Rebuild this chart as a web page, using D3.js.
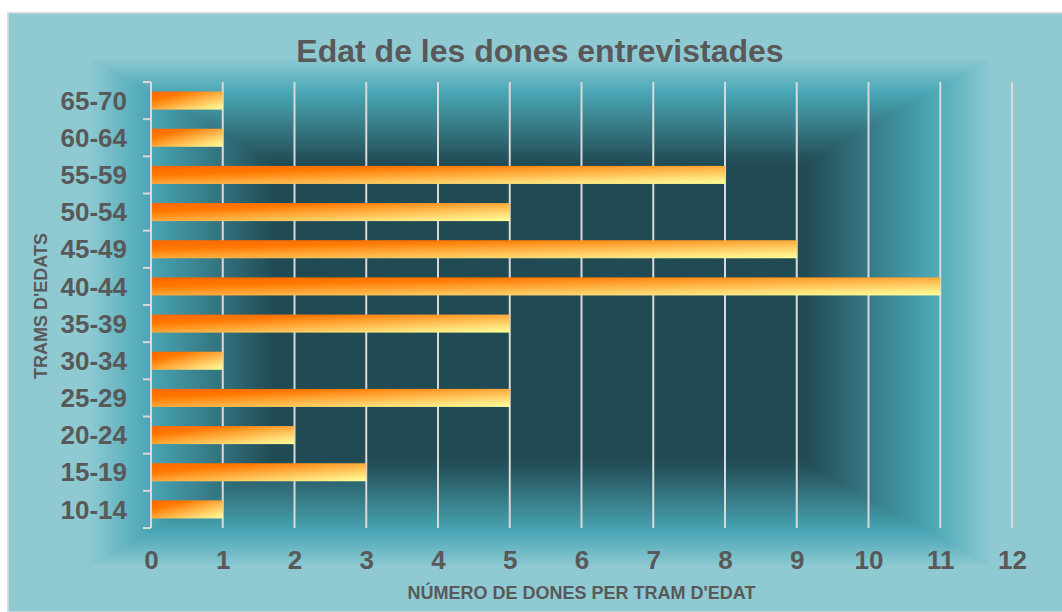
<!DOCTYPE html>
<html><head><meta charset="utf-8">
<script src="https://cdn.jsdelivr.net/npm/d3@7"></script>
<style>
html,body{margin:0;padding:0;background:#fff;}
svg{display:block;}
text{font-family:"Liberation Sans",Arial,sans-serif;font-weight:bold;fill:#595959;}
</style></head>
<body>
<svg id="chart" width="1062" height="612"></svg>
<script>
// ---- data ----
const categories = ["65-70","60-64","55-59","50-54","45-49","40-44","35-39","30-34","25-29","20-24","15-19","10-14"];
const values     = [1, 1, 8, 5, 9, 11, 5, 1, 5, 2, 3, 1];
const xTickValues = [0,1,2,3,4,5,6,7,8,9,10,11,12];
const titleText = "Edat de les dones entrevistades";
const xAxisTitle = "NÚMERO DE DONES PER TRAM D'EDAT";
const yAxisTitle = "TRAMS D'EDATS";

const svg = d3.select("#chart");
const defs = svg.append("defs");

// ---- chart area with rectangular path gradient ----
const outer = {x0: 8, y0: 13, x1: 1072, y1: 612};
const cx = (outer.x0 + outer.x1) / 2, cy = (outer.y0 + outer.y1) / 2;
const hw = (outer.x1 - outer.x0) / 4, hh = (outer.y1 - outer.y0) / 4;
const inner = {x0: cx - hw, y0: cy - hh, x1: cx + hw, y1: cy + hh};
const bgStops = [
  {o: 0, c: "#8FCAD3"}, {o: 0.30, c: "#8FCAD3"},
  {o: 0.53, c: "#4AA7B5"}, {o: 1, c: "#214B54"}
];
const sides = [
  {id: "gT", pts: [[outer.x0,outer.y0],[outer.x1,outer.y0],[inner.x1,inner.y0],[inner.x0,inner.y0]], g: [0,outer.y0,0,inner.y0]},
  {id: "gB", pts: [[outer.x0,outer.y1],[outer.x1,outer.y1],[inner.x1,inner.y1],[inner.x0,inner.y1]], g: [0,outer.y1,0,inner.y1]},
  {id: "gL", pts: [[outer.x0,outer.y0],[outer.x0,outer.y1],[inner.x0,inner.y1],[inner.x0,inner.y0]], g: [outer.x0,0,inner.x0,0]},
  {id: "gR", pts: [[outer.x1,outer.y0],[outer.x1,outer.y1],[inner.x1,inner.y1],[inner.x1,inner.y0]], g: [outer.x1,0,inner.x1,0]}
];
sides.forEach(s => {
  const lg = defs.append("linearGradient").attr("id", s.id).attr("gradientUnits", "userSpaceOnUse")
    .attr("x1", s.g[0]).attr("y1", s.g[1]).attr("x2", s.g[2]).attr("y2", s.g[3]);
  bgStops.forEach(st => lg.append("stop").attr("offset", st.o).attr("stop-color", st.c));
});
svg.append("rect").attr("x", outer.x0).attr("y", outer.y0)
  .attr("width", outer.x1 - outer.x0).attr("height", outer.y1 - outer.y0).attr("fill", "#4AA7B5");
sides.forEach(s => {
  svg.append("polygon").attr("points", s.pts.map(p => p.join(",")).join(" "))
    .attr("fill", `url(#${s.id})`).attr("stroke", `url(#${s.id})`).attr("stroke-width", 0.8);
});
svg.append("rect").attr("x", inner.x0).attr("y", inner.y0)
  .attr("width", inner.x1 - inner.x0).attr("height", inner.y1 - inner.y0).attr("fill", "#214B54");
svg.append("rect").attr("x", outer.x0).attr("y", outer.y0)
  .attr("width", outer.x1 - outer.x0).attr("height", outer.y1 - outer.y0)
  .attr("fill", "none").attr("stroke", "#D9D9D9").attr("stroke-width", 1.5);

// ---- bar gradient ----
const bg = defs.append("linearGradient").attr("id", "barGrad")
  .attr("x1", 0).attr("y1", 0).attr("x2", 1).attr("y2", 1);
[["0","#FF6600"],["0.25","#FF7800"],["0.5","#FFA838"],["0.8","#FFE07A"],["1","#FFFF99"]]
  .forEach(([o,c]) => bg.append("stop").attr("offset", o).attr("stop-color", c));

// ---- scales ----
const plot = {left: 151, right: 1012, top: 82, bottom: 528};
const x = d3.scaleLinear().domain([0, 12]).range([plot.left, plot.right]);
const y = d3.scaleBand().domain(categories).range([plot.top, plot.bottom])
  .paddingInner(0.515).paddingOuter(0.2575);
const step = y.step();

// gridlines
svg.append("g").selectAll("line").data(xTickValues.filter(d => d > 0)).join("line")
  .attr("x1", d => x(d)).attr("x2", d => x(d))
  .attr("y1", plot.top).attr("y2", plot.bottom)
  .attr("stroke", "#D9D9D9").attr("stroke-width", 2);

// bars
svg.append("g").selectAll("rect").data(categories).join("rect")
  .attr("x", x(0) + 1)
  .attr("y", d => y(d))
  .attr("width", (d, i) => x(values[i]) - x(0) - 1)
  .attr("height", y.bandwidth())
  .attr("fill", "url(#barGrad)");

// y axis line and boundary ticks
const yAxisG = svg.append("g");
yAxisG.append("line").attr("x1", x(0)).attr("x2", x(0)).attr("y1", plot.top).attr("y2", plot.bottom)
  .attr("stroke", "#D9D9D9").attr("stroke-width", 2);
const bounds = d3.range(categories.length + 1).map(i => plot.top + i * step);
yAxisG.selectAll("line.tk").data(bounds).join("line").attr("class", "tk")
  .attr("x1", x(0) - 8).attr("x2", x(0)).attr("y1", d => d).attr("y2", d => d)
  .attr("stroke", "#D9D9D9").attr("stroke-width", 2);

// y labels via axis
const yAx = svg.append("g").attr("transform", `translate(${x(0) - 24},0)`)
  .call(d3.axisLeft(y).tickSize(0).tickPadding(0));
yAx.select(".domain").remove();
yAx.selectAll("text").attr("font-size", 26).attr("font-family", null).attr("fill", "#595959")
  .attr("dy", "0.35em");

// x labels via axis
const xAx = svg.append("g").attr("transform", `translate(0,${plot.bottom})`)
  .call(d3.axisBottom(x).tickValues(xTickValues).tickSize(0).tickPadding(0).tickFormat(d3.format("d")));
xAx.select(".domain").remove();
xAx.selectAll("text").attr("font-size", 26).attr("font-family", null).attr("fill", "#595959")
  .attr("dy", null).attr("y", 41);

// titles
svg.append("text").attr("x", 540).attr("y", 62).attr("text-anchor", "middle")
  .attr("font-size", 32).text(titleText);
svg.append("text").attr("x", (plot.left + plot.right) / 2).attr("y", 599).attr("text-anchor", "middle")
  .attr("font-size", 18).text(xAxisTitle);
svg.append("text").attr("transform", `translate(47,306) rotate(-90)`).attr("text-anchor", "middle")
  .attr("font-size", 18).text(yAxisTitle);
</script>
</body></html>
